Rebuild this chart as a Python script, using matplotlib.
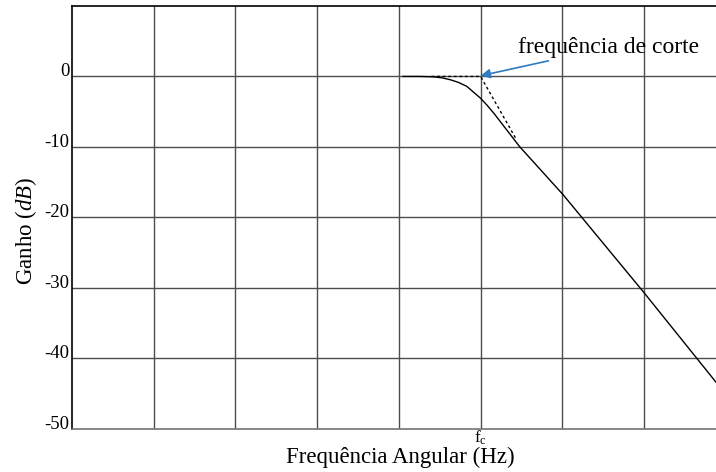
import numpy as np
import matplotlib.pyplot as plt

plt.rcParams['font.family'] = ['Liberation Serif', 'DejaVu Serif']
plt.rcParams['mathtext.fontset'] = 'custom'
plt.rcParams['mathtext.rm'] = 'Liberation Serif'
plt.rcParams['mathtext.it'] = 'Liberation Serif:italic'

# frequency axis in grid-column units (log decades), fc at column 5
resp_x = [4.05, 4.25, 4.42, 4.53, 4.63, 4.73, 4.83, 4.91, 5.00, 5.08, 5.16, 5.24,
          5.32, 5.40, 5.48, 6.01, 7.00, 7.88]
resp_db = [0.0, 0.0, -0.05, -0.2, -0.47, -0.85, -1.4, -2.2, -3.1, -4.1, -5.2, -6.4,
           -7.6, -8.8, -10.0, -16.8, -30.7, -43.4]

asym_x = [4.40, 5.00, 5.44]
asym_db = [0.0, 0.0, -9.0]

fc = 5.0
y_ticks = [0, -10, -20, -30, -40, -50]
x_grid = [1, 2, 3, 4, 5, 6, 7]

fig = plt.figure(figsize=(7.16, 4.72), dpi=100)
ax = fig.add_axes([72 / 716, 1 - 428.7 / 472, 1 - 72 / 716, (428.7 - 6) / 472])

grid_col = '0.3'
for g in x_grid:
    ax.axvline(g, color=grid_col, lw=1, zorder=1)
for t in y_ticks[:-1]:
    ax.axhline(t, color=grid_col, lw=1, zorder=1)

ax.plot(resp_x, resp_db, color='black', lw=1, zorder=3)
ax.plot(asym_x, asym_db, color='black', lw=1, ls=(0, (2, 2)), zorder=3)

ax.annotate('frequência de corte', xy=(fc, 0.1), xytext=(5.46, 4.1),
            fontsize=17, va='center', ha='left',
            arrowprops=dict(arrowstyle='-|>', color='#2f7bbf', lw=1.2,
                            mutation_scale=14, shrinkA=0, shrinkB=0))

ax.set_xlim(0, 7.88)
ax.set_ylim(-50, 10)

ax.set_yticks(y_ticks)
ax.set_yticklabels([str(t) for t in y_ticks])
for lab in ax.get_yticklabels():
    lab.set_va('baseline')
ax.tick_params(axis='y', length=0, pad=2, labelsize=13.5)

ax.set_xticks([fc])
ax.set_xticklabels([r'f$_{\rm c}$'])
ax.tick_params(axis='x', length=0, pad=0, labelsize=12.5)

ax.set_xlabel('Frequência Angular (Hz)', fontsize=16.5)
ax.xaxis.set_label_coords(0.51, -0.043)
ax.xaxis.label.set_va('top')
ax.set_ylabel(r'Ganho ($dB$)', fontsize=16.5)
ax.yaxis.set_label_coords(-0.052, 0.468)

ax.spines['right'].set_visible(False)
ax.spines['left'].set_color('black')
ax.spines['top'].set_color('black')
ax.spines['bottom'].set_color('0.45')
for s in ax.spines.values():
    s.set_linewidth(1.2)

fig.savefig('out.png', dpi=100)
